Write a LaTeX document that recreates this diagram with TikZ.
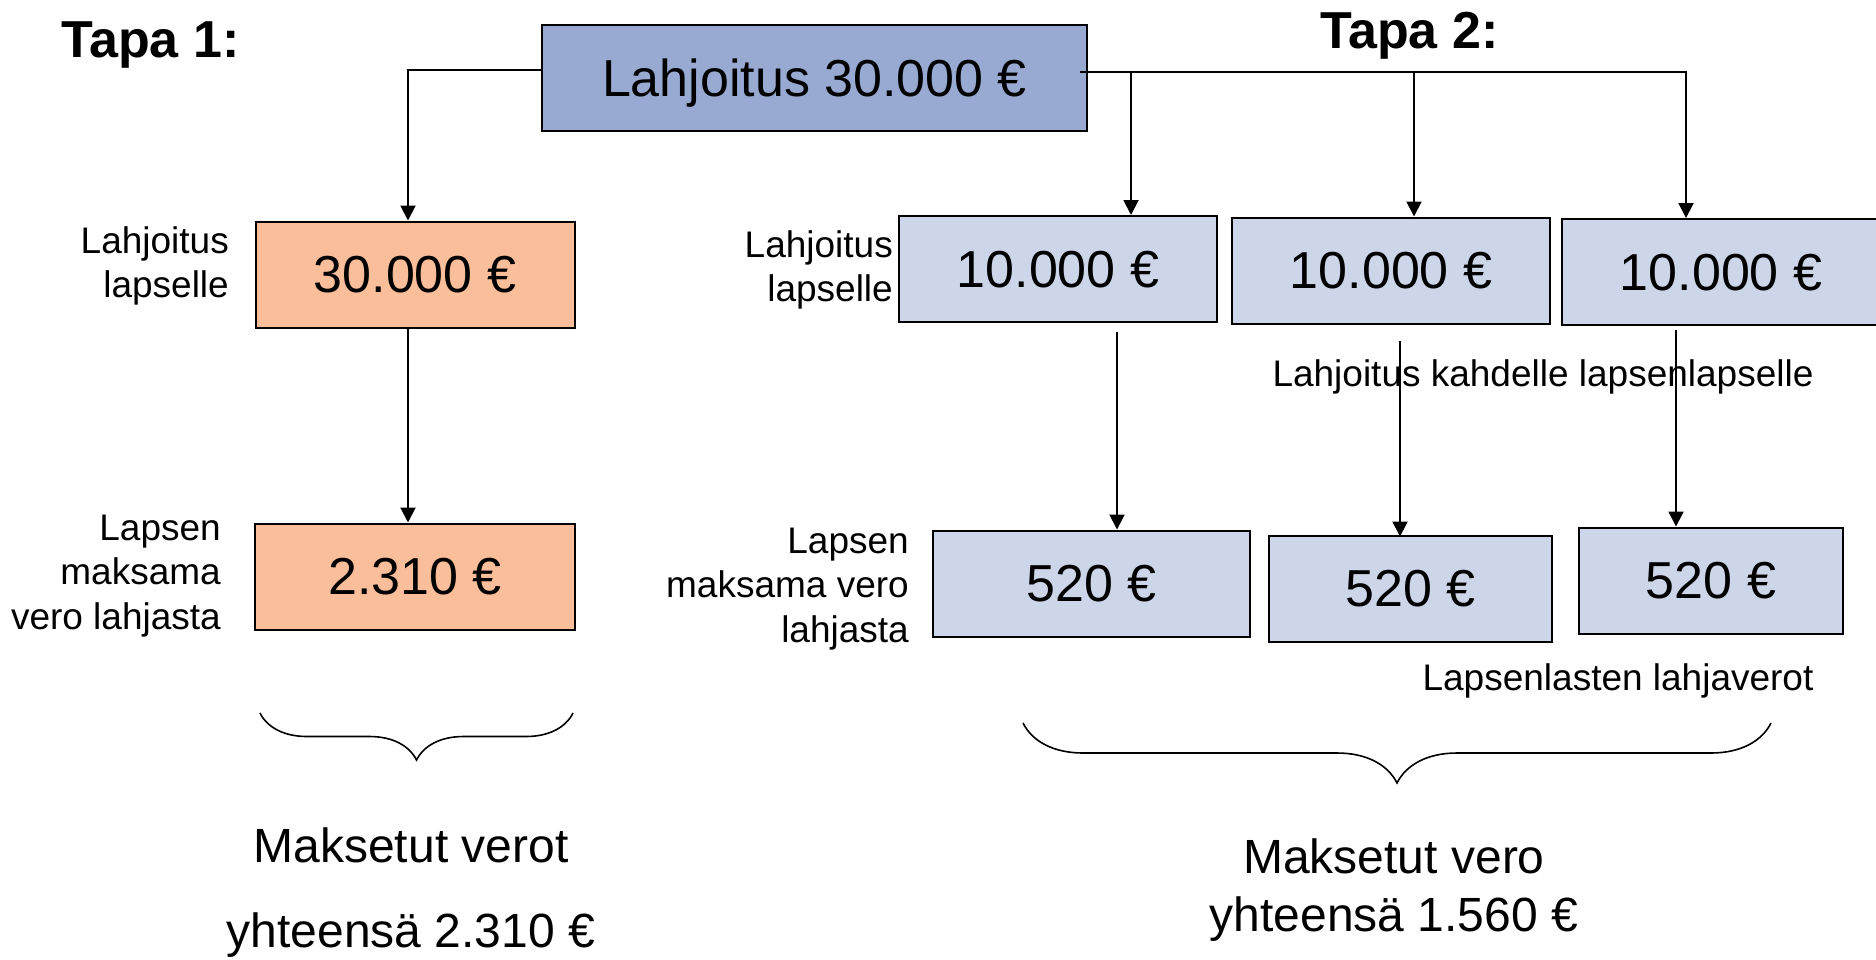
\documentclass[tikz,border=0pt]{standalone}
\usepackage{fontspec}
\setmainfont{Liberation Sans}
\usetikzlibrary{arrows.meta,decorations.pathreplacing}
\definecolor{topBL}{RGB}{152,170,210}
\definecolor{lightBL}{RGB}{205,213,233}
\definecolor{lightOR}{RGB}{251,190,154}

\begin{document}
\begin{tikzpicture}[x=1pt,y=-1pt,
                    boxND/.style={rectangle,
                                  draw=black,
                                  line width=2pt,
                                  minimum height=106pt,
                                  inner sep=0pt,
                                  text depth=0pt,
                                  font=\fontsize{52}{62}\selectfont},
                    sideND/.style={align=right,
                                   anchor=east,
                                   inner sep=0pt,
                                   font=\fontsize{37}{44.5}\selectfont},
                    noteND/.style={anchor=base,
                                   inner sep=0pt,
                                   font=\fontsize{37}{44.5}\selectfont},
                    tapaND/.style={anchor=base west,
                                   inner sep=0pt,
                                   font=\bfseries\fontsize{52}{62}\selectfont},
                    arr/.style={-{Triangle[length=15pt,width=15pt]},
                                line width=2pt},
                    brc/.style={decorate,
                                decoration={brace,mirror,amplitude=#1},
                                line width=1.6pt}]
    \useasboundingbox (0,0) rectangle (1876,959);
    % headings
    \node[tapaND](T1) at (61,57)   {Tapa 1:};
    \node[tapaND](T2) at (1320,48) {Tapa 2:};
    % boxes
    \node[boxND,fill=topBL,minimum width=545pt](top) at (814.5,77.5) {Lahjoitus 30.000 €};
    \node[boxND,fill=lightOR,minimum width=319pt](o1) at (415,274.5)  {30.000 €};
    \node[boxND,fill=lightOR,minimum width=320pt](o2) at (415,576.5)  {2.310 €};
    \node[boxND,fill=lightBL,minimum width=318pt](rA) at (1058,269)   {10.000 €};
    \node[boxND,fill=lightBL,minimum width=318pt](rB) at (1391,270.5) {10.000 €};
    \node[boxND,fill=lightBL,minimum width=318pt](rC) at (1721,272)   {10.000 €};
    \node[boxND,fill=lightBL,minimum width=317pt](rD) at (1091.5,583.5) {520 €};
    \node[boxND,fill=lightBL,minimum width=283pt](rE) at (1410.5,588.5) {520 €};
    \node[boxND,fill=lightBL,minimum width=264pt](rF) at (1711,580.5)   {520 €};
    % side labels
    \node[sideND](L1) at (229,266) {Lahjoitus\\lapselle};
    \node[sideND](L2) at (221,576) {Lapsen\\maksama\\vero lahjasta};
    \node[sideND](R1) at (893,270) {Lahjoitus\\lapselle};
    \node[sideND](R2) at (909,589) {Lapsen\\maksama vero\\lahjasta};
    \node[noteND](N1) at (1543,386) {Lahjoitus kahdelle lapsenlapselle};
    \node[noteND](N2) at (1618,690) {Lapsenlasten lahjaverot};
    % totals
    \node[align=center,inner sep=0pt,font=\fontsize{48}{85}\selectfont](S1) at (411,893)
        {Maksetut verot\\yhteensä 2.310 €};
    \node[align=center,inner sep=0pt,font=\fontsize{48}{58}\selectfont](S2) at (1394,890)
        {Maksetut vero\\yhteensä 1.560 €};
    % connectors
    \coordinate (hub) at ([xshift=-8pt,yshift=6pt]top.east);
    \coordinate (dA)  at ([xshift=73pt]rA.north);
    \coordinate (dB)  at ([xshift=23pt]rB.north);
    \coordinate (dC)  at ([xshift=-35pt]rC.north);
    \draw[arr] ([yshift=8pt]top.west) -| ([xshift=-7pt]o1.north);
    \draw[arr] ([xshift=-7pt]o1.south) -- ([xshift=-7pt]o2.north);
    \draw[arr] (hub) -| (dC);
    \draw[arr] (hub -| dA) -- (dA);
    \draw[arr] (hub -| dB) -- (dB);
    \draw[arr] ([xshift=59pt,yshift=-9pt]rA.south)  -- ([xshift=25.5pt]rD.north);
    \draw[arr] ([xshift=9pt,yshift=-16pt]rB.south)  -- ([xshift=-10.5pt,yshift=-2pt]rE.north);
    \draw[arr] ([xshift=-45pt,yshift=-4pt]rC.south) -- ([xshift=-35pt]rF.north);
    % braces
    \draw[brc=47pt] (260,713)  -- (573,713);
    \draw[brc=60pt] (1023,723) -- (1771,723);
\end{tikzpicture}
\end{document}
